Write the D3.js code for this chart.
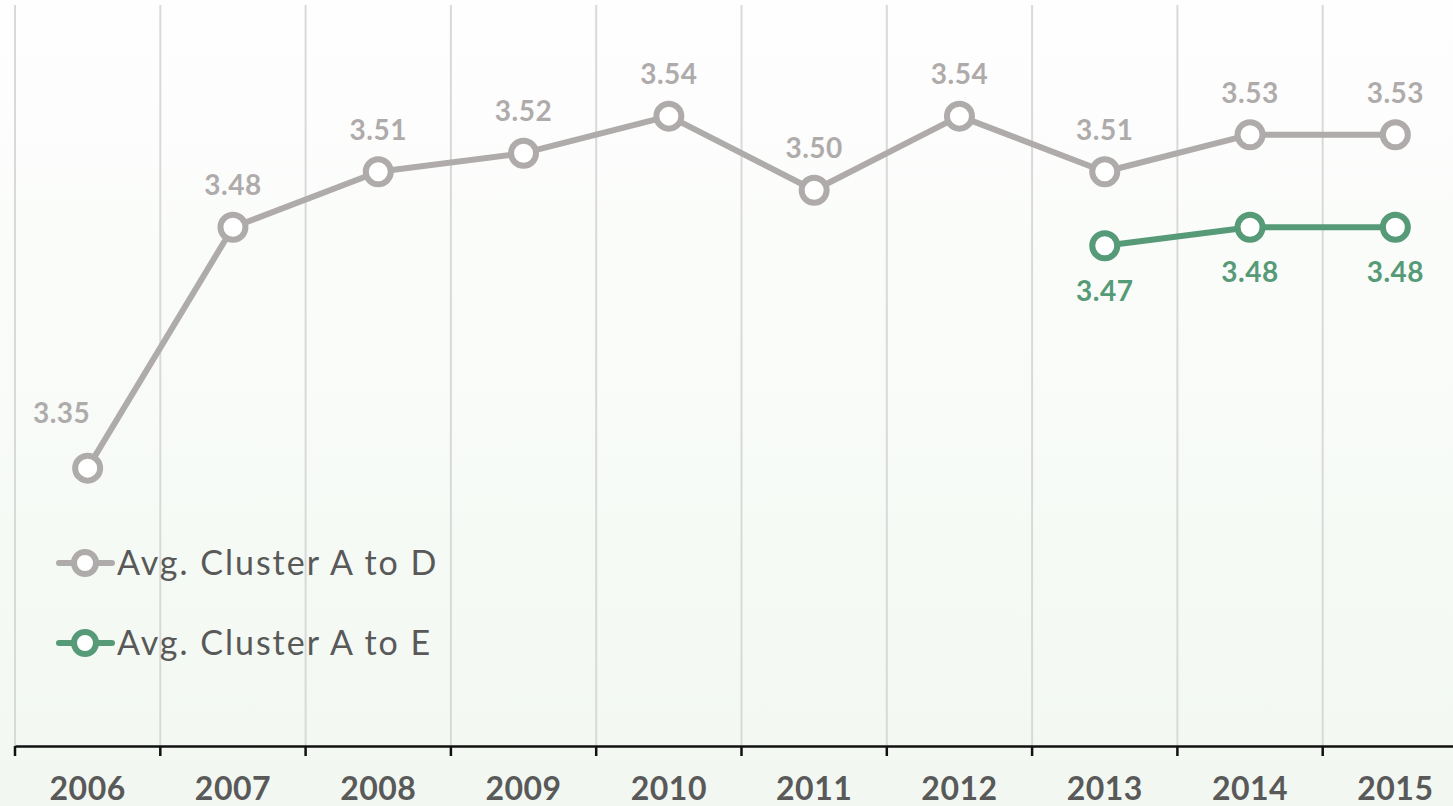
<!DOCTYPE html>
<html>
<head>
<meta charset="utf-8">
<script src="https://cdn.jsdelivr.net/npm/d3@7"></script>
<style>
  html, body { margin: 0; padding: 0; overflow: hidden; }
  svg { display: block; }
</style>
</head>
<body>
<svg id="chart" width="1453" height="806"></svg>
<script>
// chart data
var years = ["2006", "2007", "2008", "2009", "2010", "2011", "2012", "2013", "2014", "2015"]
var clusterAtoD = [3.35, 3.48, 3.51, 3.52, 3.54, 3.50, 3.54, 3.51, 3.53, 3.53]
var clusterAtoE = [null, null, null, null, null, null, null, 3.47, 3.48, 3.48]
var seriesNames = ["Avg. Cluster A to D", "Avg. Cluster A to E"]

var grey  = "#afabab"
var green = "#569a78"
var font  = "Lato, 'Open Sans', sans-serif"

var svg = d3.select("#chart")
var width = 1453, height = 806
var axisY = 746

// background gradient
var defs = svg.append("defs")
var grad = defs.append("linearGradient").attr("id", "bg").attr("x1", 0).attr("y1", 0).attr("x2", 0).attr("y2", 1)
grad.append("stop").attr("offset", "0%").attr("stop-color", "#fefefe")
grad.append("stop").attr("offset", "100%").attr("stop-color", "#f2f8f1")
svg.append("rect").attr("width", width).attr("height", height).attr("fill", "url(#bg)")

var x = d3.scaleBand().domain(years).range([15, 1468])
var y = d3.scaleLinear().domain([3.2, 3.6]).range([axisY, 5])
var cx = function(d){ return x(d.year) + x.bandwidth() / 2 }

// vertical gridlines at band boundaries
svg.append("g").selectAll("line")
    .data(years)
    .enter()
        .append("line")
        .attr("x1", function(d){ return x(d) })
        .attr("x2", function(d){ return x(d) })
        .attr("y1", y(3.6))
        .attr("y2", axisY)
        .attr("stroke", "#d9d9d9")
        .attr("stroke-width", 2)

// x axis
var xAxis = svg.append("g")
    .attr("transform", "translate(0," + axisY + ")")
    .call(d3.axisBottom(x).tickSize(0).tickPadding(31))
xAxis.select(".domain").attr("stroke", "#111").attr("stroke-width", 2.5)
xAxis.selectAll("text")
    .attr("font-family", font)
    .attr("font-weight", "bold")
    .attr("font-size", "32px")
    .attr("letter-spacing", "0.5px")
    .attr("fill", "#595959")
svg.append("g").selectAll("line")
    .data(years)
    .enter()
        .append("line")
        .attr("x1", function(d){ return x(d) })
        .attr("x2", function(d){ return x(d) })
        .attr("y1", axisY)
        .attr("y2", axisY + 10)
        .attr("stroke", "#111")
        .attr("stroke-width", 2.5)

function toPoints(values)
{
    return values.map(function(v, i){ return {year: years[i], value: v} })
                 .filter(function(d){ return d.value != null })
}

var series = [
    {name: seriesNames[0], color: grey,  points: toPoints(clusterAtoD), labelPos: "above"},
    {name: seriesNames[1], color: green, points: toPoints(clusterAtoE), labelPos: "below"}
]

var line = d3.line()
    .x(cx)
    .y(function(d){ return y(d.value) })

series.forEach(function(s)
{
    var g = svg.append("g")
    g.append("path")
        .datum(s.points)
        .attr("d", line)
        .attr("fill", "none")
        .attr("stroke", s.color)
        .attr("stroke-width", 6)
        .attr("stroke-linejoin", "round")

    g.selectAll("circle")
        .data(s.points)
        .enter()
            .append("circle")
            .attr("cx", cx)
            .attr("cy", function(d){ return y(d.value) })
            .attr("r", 12.5)
            .attr("fill", "#fff")
            .attr("stroke", s.color)
            .attr("stroke-width", 6)

    g.selectAll("text")
        .data(s.points)
        .enter()
            .append("text")
            .attr("x", function(d, i){ return (s.labelPos == "above" && i == 0) ? cx(d) - 26 : cx(d) })
            .attr("y", function(d, i){
                if(s.labelPos == "below") return y(d.value) + 55
                if(i == 0) return y(d.value) - 45
                return y(d.value) - 32
            })
            .attr("text-anchor", "middle")
            .attr("font-family", font)
            .attr("font-weight", "bold")
            .attr("font-size", "28px")
            .attr("letter-spacing", "0.5px")
            .attr("fill", s.color)
            .text(function(d){ return d3.format(".2f")(d.value) })
})

// legend
var legend = svg.append("g")
series.forEach(function(s, i)
{
    var ly = 563 + i * 80
    legend.append("line")
        .attr("x1", 59).attr("x2", 112)
        .attr("y1", ly).attr("y2", ly)
        .attr("stroke", s.color)
        .attr("stroke-width", 6)
        .attr("stroke-linecap", "round")
    legend.append("circle")
        .attr("cx", 85).attr("cy", ly).attr("r", 11)
        .attr("fill", "#fff")
        .attr("stroke", s.color)
        .attr("stroke-width", 6)
    legend.append("text")
        .attr("x", 117).attr("y", ly + 12)
        .attr("font-family", font)
        .attr("font-size", "34px")
        .attr("letter-spacing", "2px")
        .attr("fill", "#595959")
        .text(s.name)
})
</script>
</body>
</html>
